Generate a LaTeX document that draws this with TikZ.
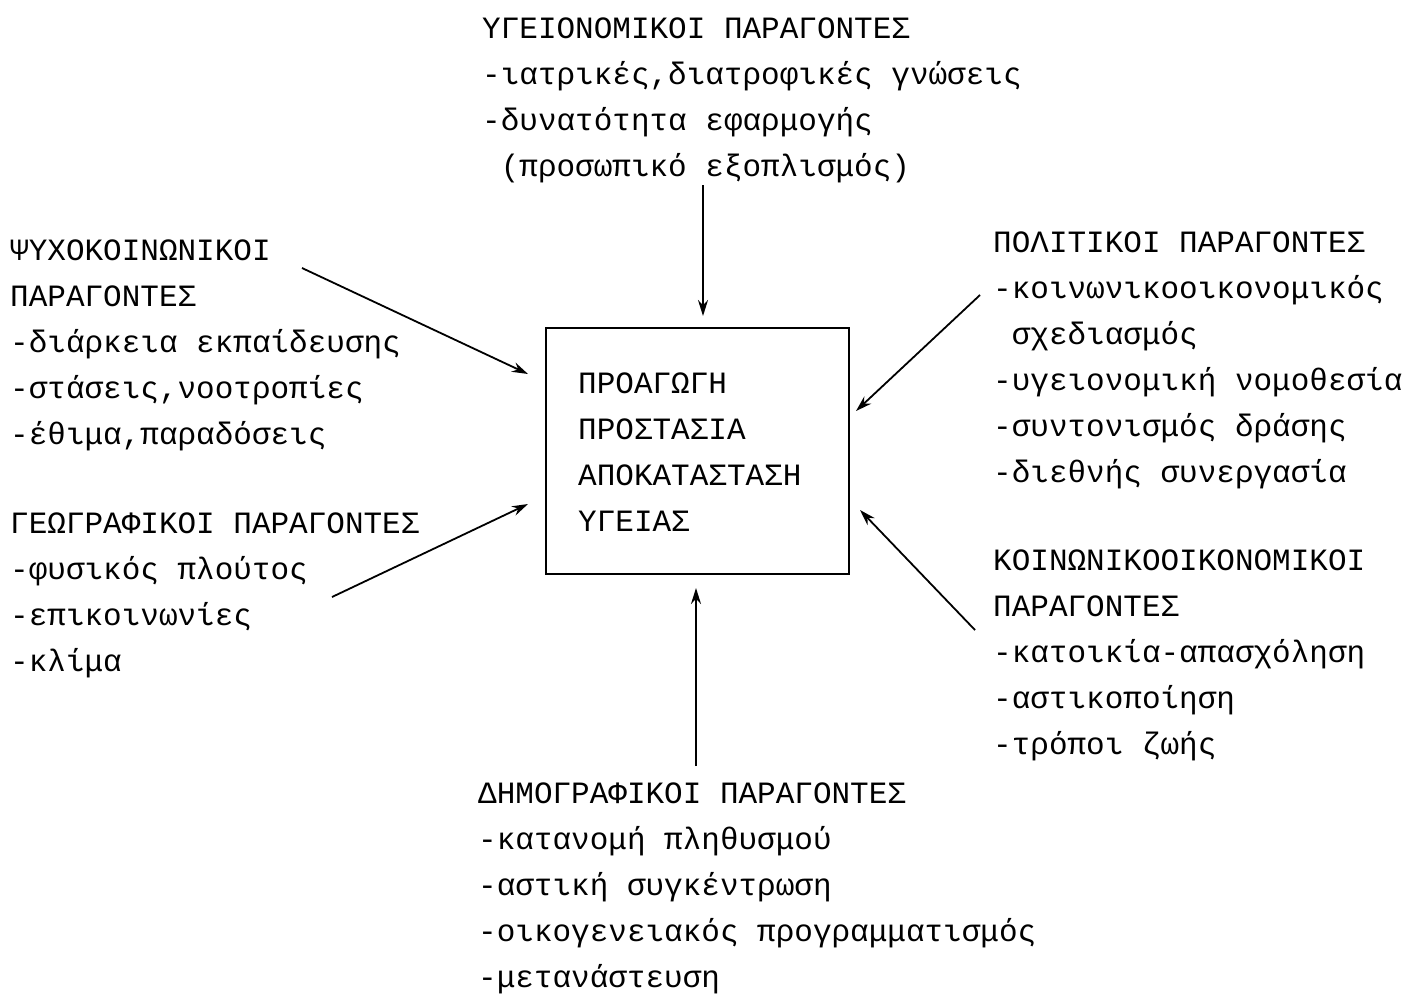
\documentclass[tikz,border=0pt]{standalone}
\usepackage{fontspec}
\setmonofont{Liberation Mono}
\usetikzlibrary{arrows.meta}
\tikzset{
  block/.style={anchor=north west, inner sep=0pt, align=left, font=\fontsize{31}{46}\selectfont\ttfamily},
  arr/.style={line width=1.8pt, -{Stealth[length=16pt,width=10pt]}},
  boxst/.style={draw, line width=1.8pt}
}
\begin{document}
\begin{tikzpicture}[x=1pt,y=-1pt]
\path[use as bounding box] (0,0) rectangle (1412,994);
% central box
\node[boxst, anchor=north west, minimum width=303pt, minimum height=246pt, inner sep=0pt] (box) at (545,327) {};
\node[block] (boxtext) at (578,373) {ΠΡΟΑΓΩΓΗ\\ΠΡΟΣΤΑΣΙΑ\\ΑΠΟΚΑΤΑΣΤΑΣΗ\\ΥΓΕΙΑΣ};
% blocks
\node[block] (top) at (482,18) {ΥΓΕΙΟΝΟΜΙΚΟΙ ΠΑΡΑΓΟΝΤΕΣ\\-ιατρικές,διατροφικές γνώσεις\\-δυνατότητα εφαρμογής\\\hphantom{-}(προσωπικό εξοπλισμός)};
\node[block] (left1) at (10,240) {ΨΥΧΟΚΟΙΝΩΝΙΚΟΙ\\ΠΑΡΑΓΟΝΤΕΣ\\-διάρκεια εκπαίδευσης\\-στάσεις,νοοτροπίες\\-έθιμα,παραδόσεις};
\node[block] (left2) at (10,513) {ΓΕΩΓΡΑΦΙΚΟΙ ΠΑΡΑΓΟΝΤΕΣ\\-φυσικός πλούτος\\-επικοινωνίες\\-κλίμα};
\node[block] (right1) at (993,232) {ΠΟΛΙΤΙΚΟΙ ΠΑΡΑΓΟΝΤΕΣ\\-κοινωνικοοικονομικός\\\hphantom{-}σχεδιασμός\\-υγειονομική νομοθεσία\\-συντονισμός δράσης\\-διεθνής συνεργασία};
\node[block] (right2) at (993,550) {ΚΟΙΝΩΝΙΚΟΟΙΚΟΝΟΜΙΚΟΙ\\ΠΑΡΑΓΟΝΤΕΣ\\-κατοικία-απασχόληση\\-αστικοποίηση\\-τρόποι ζωής};
\node[block] (bottom) at (478,783) {ΔΗΜΟΓΡΑΦΙΚΟΙ ΠΑΡΑΓΟΝΤΕΣ\\-κατανομή πληθυσμού\\-αστική συγκέντρωση\\-οικογενειακός προγραμματισμός\\-μετανάστευση};
% arrow ends
\coordinate (tS) at (703,185); \coordinate (tE) at (703,316);
\coordinate (l1S) at (302,268); \coordinate (l1E) at (528,374);
\coordinate (l2S) at (332,597); \coordinate (l2E) at (528,504);
\coordinate (r1S) at (980,295); \coordinate (r1E) at (856,411);
\coordinate (r2S) at (975,630); \coordinate (r2E) at (860,510);
\coordinate (bS) at (696,766); \coordinate (bE) at (696,588);
\draw[arr] (tS) -- (tE);
\draw[arr] (l1S) -- (l1E);
\draw[arr] (l2S) -- (l2E);
\draw[arr] (r1S) -- (r1E);
\draw[arr] (r2S) -- (r2E);
\draw[arr] (bS) -- (bE);
\end{tikzpicture}
\end{document}
